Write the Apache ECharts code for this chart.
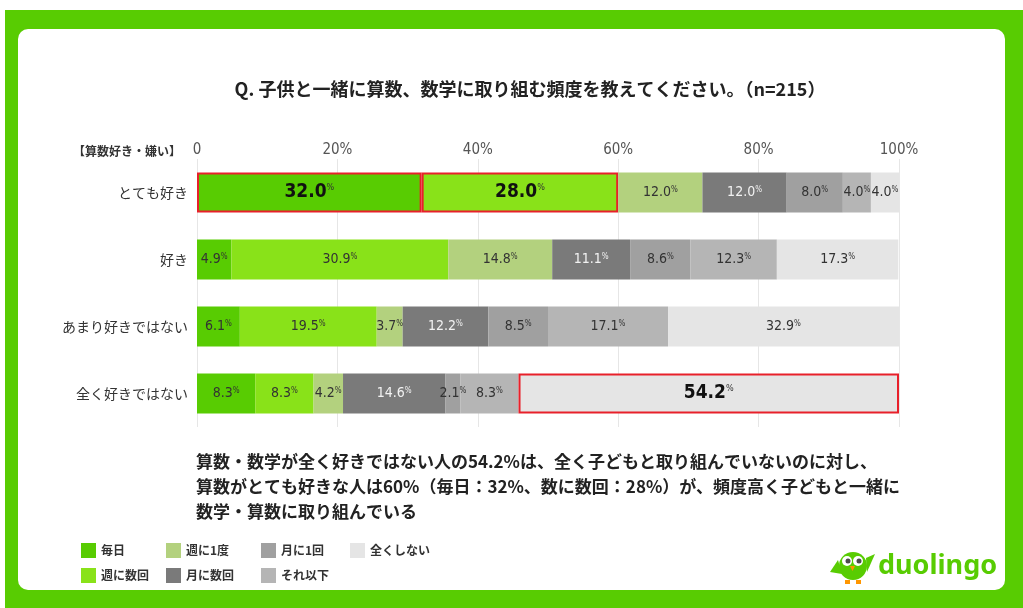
<!DOCTYPE html>
<html>
<head>
<meta charset="utf-8">
<script src="https://cdn.jsdelivr.net/npm/echarts@6/dist/echarts.min.js"></script>
<style>
  html, body { margin: 0; padding: 0; background: #fff; }
  #main { width: 1023px; height: 608px; }
</style>
</head>
<body>
<div id="main"></div>
<script>
var categories = ['とても好き', '好き', 'あまり好きではない', '全く好きではない'];
var seriesNames = ['毎日', '週に数回', '週に1度', '月に数回', '月に1回', 'それ以下', '全くしない'];
var colors = ['#58cc02', '#89e219', '#b3d17e', '#7a7a7a', '#a0a0a0', '#b5b5b5', '#e5e5e5'];
var labelColors = ['#333', '#333', '#333', '#f2f2f2', '#333', '#333', '#333'];

// 各行の値（%）：毎日, 週に数回, 週に1度, 月に数回, 月に1回, それ以下, 全くしない
var rowVeryLike = [32.0, 28.0, 12.0, 12.0, 8.0, 4.0, 4.0];
var rowLike = [4.9, 30.9, 14.8, 11.1, 8.6, 12.3, 17.3];
var rowNotMuch = [6.1, 19.5, 3.7, 12.2, 8.5, 17.1, 32.9];
var rowNotAtAll = [8.3, 8.3, 4.2, 14.6, 2.1, 8.3, 54.2];
var rows = [rowVeryLike, rowLike, rowNotMuch, rowNotAtAll];

var tickValues = [0, 20, 40, 60, 80, 100];
// 赤枠で強調するセル [行, 系列]
var highlights = [[0, 0], [0, 1], [3, 6]];

var numFont = '"Liberation Sans Narrow", "DejaVu Sans Condensed", sans-serif';
var jpFont = '"Noto Sans CJK JP", sans-serif';

function isHi(r, s) {
    for (var i = 0; i < highlights.length; i++) {
        if (highlights[i][0] === r && highlights[i][1] === s) return true;
    }
    return false;
}

var series = [];
for (var s = 0; s < seriesNames.length; s++) {
    var data = [];
    for (var r = 0; r < rows.length; r++) {
        var item = {value: rows[r][s]};
        if (isHi(r, s)) {
            item.itemStyle = {borderColor: '#e8202a', borderWidth: 2};
            item.label = {
                formatter: function (p) { return '{b|' + p.value.toFixed(1) + '}{bp|%}'; }
            };
        }
        data.push(item);
    }
    series.push({
        name: seriesNames[s],
        type: 'bar',
        stack: 'total',
        barWidth: 40,
        itemStyle: {color: colors[s]},
        label: {
            show: true,
            position: 'inside',
            formatter: function (p) { return '{v|' + p.value.toFixed(1) + '}{p|%}'; },
            rich: {
                v: {fontSize: 14, color: labelColors[s], fontFamily: numFont},
                p: {fontSize: 8, color: labelColors[s], fontFamily: numFont, verticalAlign: 'top'},
                b: {fontSize: 19, fontWeight: 'bold', color: '#111', fontFamily: numFont},
                bp: {fontSize: 9, color: '#333', fontFamily: numFont, verticalAlign: 'top'}
            }
        },
        emphasis: {disabled: true},
        data: data
    });
}

var legends = [
    {left: 76, data: ['毎日', '週に数回']},
    {left: 161, data: ['週に1度', '月に数回']},
    {left: 256, data: ['月に1回', 'それ以下']},
    {left: 345, data: ['全くしない']}
].map(function (l) {
    return {
        left: l.left,
        top: 538,
        orient: 'vertical',
        itemWidth: 15,
        itemHeight: 15,
        itemGap: 10,
        icon: 'rect',
        selectedMode: false,
        textStyle: {fontSize: 12, color: '#333', fontFamily: jpFont, fontWeight: 'bold'},
        data: l.data
    };
});

var summary = [
    '算数・数学が全く好きではない人の54.2%は、全く子どもと取り組んでいないのに対し、',
    '算数がとても好きな人は60%（毎日：32%、数に数回：28%）が、頻度高く子どもと一緒に',
    '数学・算数に取り組んでいる'
];

var graphics = [
    {type: 'rect', z: -10, shape: {x: 5, y: 10, width: 1018, height: 598}, style: {fill: '#58cc02'}},
    {type: 'rect', z: -9, shape: {x: 18, y: 29, width: 987, height: 561, r: 10}, style: {fill: '#fff'}},
    {type: 'text', x: 530, y: 89, style: {text: 'Q. 子供と一緒に算数、数学に取り組む頻度を教えてください。（n=215）', fill: '#222', font: 'bold 18px ' + jpFont, align: 'center', verticalAlign: 'middle'}},
    {type: 'text', x: 181, y: 151, style: {text: '【算数好き・嫌い】', fill: '#333', font: 'bold 12px ' + jpFont, align: 'right', verticalAlign: 'middle'}},
    // logo
    {type: 'circle', shape: {cx: 853, cy: 566, r: 14}, style: {fill: '#58cc02'}},
    {type: 'polygon', shape: {points: [[838, 560], [830, 572], [842, 574]]}, style: {fill: '#58cc02'}},
    {type: 'polygon', shape: {points: [[866, 558], [875, 554], [867, 572]]}, style: {fill: '#58cc02'}},
    {type: 'circle', shape: {cx: 847, cy: 561, r: 5}, style: {fill: '#fff'}},
    {type: 'circle', shape: {cx: 858, cy: 561, r: 5}, style: {fill: '#fff'}},
    {type: 'circle', shape: {cx: 848, cy: 561, r: 2.5}, style: {fill: '#4b4b4b'}},
    {type: 'circle', shape: {cx: 859, cy: 561, r: 2.5}, style: {fill: '#4b4b4b'}},
    {type: 'polygon', shape: {points: [[850, 566], [855, 566], [852.5, 571]]}, style: {fill: '#ff9600'}},
    {type: 'rect', shape: {x: 845, y: 580, width: 5, height: 4}, style: {fill: '#ff9600'}},
    {type: 'rect', shape: {x: 856, y: 580, width: 5, height: 4}, style: {fill: '#ff9600'}},
    {type: 'text', x: 878, y: 566, style: {text: 'duolingo', fill: '#58cc02', font: 'bold 27px "Noto Sans", sans-serif', verticalAlign: 'middle'}}
];
summary.forEach(function (line, i) {
    graphics.push({type: 'text', x: 196, y: 462 + i * 25, style: {text: line, fill: '#222', font: 'bold 17px ' + jpFont, verticalAlign: 'middle'}});
});

var chart = echarts.init(document.getElementById('main'));
chart.setOption({
    animation: false,
    grid: {left: 197, right: 124, top: 159, bottom: 181},
    legend: legends,
    xAxis: {
        type: 'value',
        position: 'top',
        min: 0,
        max: 100,
        interval: 20,
        axisLine: {show: false},
        axisTick: {show: false},
        splitLine: {lineStyle: {color: '#e6e6e6'}},
        axisLabel: {
            margin: 1,
            color: '#555',
            fontSize: 15,
            fontFamily: numFont,
            formatter: function (v) { return v === 0 ? '0' : v + '%'; },
            customValues: tickValues
        }
    },
    yAxis: {
        type: 'category',
        inverse: true,
        data: categories,
        axisLine: {show: false},
        axisTick: {show: false},
        axisLabel: {margin: 9, color: '#333', fontSize: 14, fontFamily: jpFont}
    },
    graphic: graphics,
    series: series
});
</script>
</body>
</html>
